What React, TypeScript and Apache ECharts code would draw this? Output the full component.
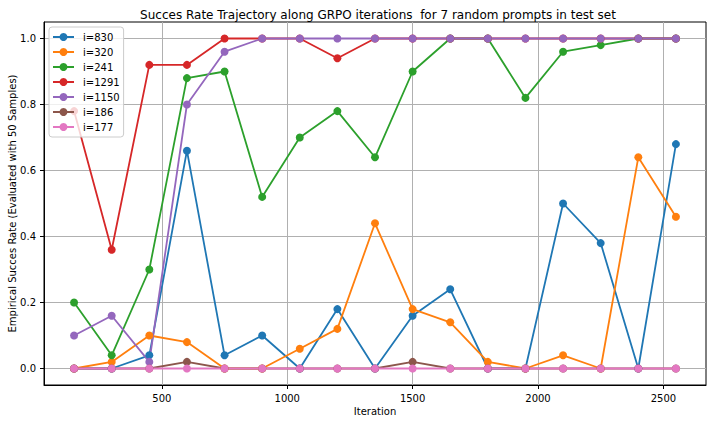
import React, { useEffect, useRef } from "react";
import * as echarts from "echarts";

const iterations = [150, 300, 450, 600, 750, 900, 1050, 1200, 1350, 1500, 1650, 1800, 1950, 2100, 2250, 2400, 2550];
const s830 = [0, 0, 0.04, 0.66, 0.04, 0.1, 0, 0.18, 0, 0.16, 0.24, 0, 0, 0.5, 0.38, 0, 0.68];
const s320 = [0, 0.02, 0.1, 0.08, 0, 0, 0.06, 0.12, 0.44, 0.18, 0.14, 0.02, 0, 0.04, 0, 0.64, 0.46];
const s241 = [0.2, 0.04, 0.3, 0.88, 0.9, 0.52, 0.7, 0.78, 0.64, 0.9, 1, 1, 0.82, 0.96, 0.98, 1, 1];
const s1291 = [0.78, 0.36, 0.92, 0.92, 1, 1, 1, 0.94, 1, 1, 1, 1, 1, 1, 1, 1, 1];
const s1150 = [0.1, 0.16, 0.02, 0.8, 0.96, 1, 1, 1, 1, 1, 1, 1, 1, 1, 1, 1, 1];
const s186 = [0, 0, 0, 0.02, 0, 0, 0, 0, 0, 0.02, 0, 0, 0, 0, 0, 0, 0];
const s177 = [0, 0, 0, 0, 0, 0, 0, 0, 0, 0, 0, 0, 0, 0, 0, 0, 0];

const seriesNames = ["i=830", "i=320", "i=241", "i=1291", "i=1150", "i=186", "i=177"];
const seriesValues = [s830, s320, s241, s1291, s1150, s186, s177];
const colors = ["#1f77b4", "#ff7f0e", "#2ca02c", "#d62728", "#9467bd", "#8c564b", "#e377c2"];

const xTicks = [500, 1000, 1500, 2000, 2500];
const yTicks = [0, 0.2, 0.4, 0.6, 0.8, 1.0];

const FONT = "DejaVu Sans";

export default function App() {
  const ref = useRef<HTMLDivElement>(null);
  useEffect(() => {
    if (!ref.current) return;
    const chart = echarts.init(ref.current, null, { renderer: "svg" });
    chart.setOption({
      animation: false,
      backgroundColor: "#ffffff",
      color: colors,
      title: {
        text: "Succes Rate Trajectory along GRPO iterations  for 7 random prompts in test set",
        left: 373,
        top: 4,
        textAlign: "center",
        textStyle: { fontFamily: FONT, fontSize: 12, fontWeight: "normal", color: "#000" },
      },
      legend: {
        orient: "vertical",
        left: 49,
        top: 27,
        padding: [4, 4, 4, 3],
        itemWidth: 21,
        itemHeight: 10,
        itemGap: 3,
        backgroundColor: "rgba(255,255,255,0.8)",
        borderColor: "#cccccc",
        borderWidth: 1,
        borderRadius: 3,
        textStyle: { fontFamily: FONT, fontSize: 10, color: "#000", lineHeight: 12, padding: [0, 0, 0, 4] },
        data: seriesNames,
      },
      grid: {
        left: 44,
        right: 6,
        top: 22,
        bottom: 39,
        show: true,
        borderColor: "#000",
        borderWidth: 1,
        containLabel: false,
        outerBoundsMode: "none",
      },
      xAxis: {
        type: "value",
        min: 30,
        max: 2670,
        name: "Iteration",
        nameLocation: "middle",
        nameGap: 21,
        nameMoveOverlap: false,
        nameTextStyle: { fontFamily: FONT, fontSize: 10, color: "#000" },
        axisLine: { show: true, onZero: false, lineStyle: { color: "#000", width: 1 } },
        axisTick: { show: true, length: 4, customValues: xTicks, lineStyle: { color: "#000" } },
        axisLabel: {
          customValues: xTicks,
          fontFamily: FONT,
          fontSize: 10,
          color: "#000",
          margin: 8,
          formatter: (v: number) => String(v),
        },
        splitLine: { show: true, lineStyle: { color: "#b0b0b0", width: 1 } },
      },
      yAxis: {
        type: "value",
        min: -0.05,
        max: 1.05,
        name: "Empirical Succes Rate (Evaluated with 50 Samples)",
        nameLocation: "middle",
        nameGap: 27,
        nameMoveOverlap: false,
        nameTextStyle: { fontFamily: FONT, fontSize: 10, color: "#000" },
        axisLine: { show: true, onZero: false, lineStyle: { color: "#000", width: 1 } },
        axisTick: { show: true, length: 4, customValues: yTicks, lineStyle: { color: "#000" } },
        axisLabel: {
          customValues: yTicks,
          fontFamily: FONT,
          fontSize: 10,
          color: "#000",
          margin: 8,
          formatter: (v: number) => v.toFixed(1),
        },
        splitLine: { show: true, lineStyle: { color: "#b0b0b0", width: 1 } },
      },
      series: seriesNames.map((name, k) => ({
        name,
        type: "line",
        data: iterations.map((x, i) => [x, seriesValues[k][i]]),
        symbol: "circle",
        symbolSize: 8,
        showSymbol: true,
        lineStyle: { width: 1.8, color: colors[k] },
        itemStyle: { color: colors[k], borderWidth: 0 },
        emphasis: { disabled: true },
        z: 2,
      })),
    });
    return () => chart.dispose();
  }, []);
  return (
    <div
      ref={ref}
      style={{ position: "absolute", left: 0, top: 0, width: 712, height: 424 }}
    />
  );
}
